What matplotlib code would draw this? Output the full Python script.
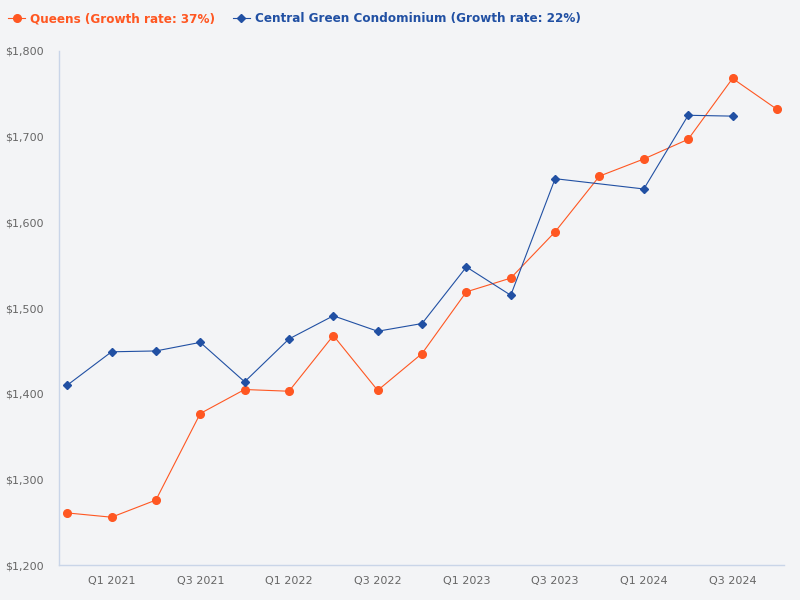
import matplotlib.pyplot as plt
from matplotlib.ticker import FuncFormatter

quarters = [
    "Q4 2020", "Q1 2021", "Q2 2021", "Q3 2021", "Q4 2021", "Q1 2022", "Q2 2022",
    "Q3 2022", "Q4 2022", "Q1 2023", "Q2 2023", "Q3 2023", "Q4 2023", "Q1 2024",
    "Q2 2024", "Q3 2024", "Q4 2024",
]
queens = [1261, 1256, 1276, 1377, 1405, 1403, 1468, 1404, 1447, 1519, 1535,
          1589, 1654, 1674, 1697, 1768, 1732]
# Central Green has no reading for Q4 2023 and none yet for Q4 2024
central_quarters = [
    "Q4 2020", "Q1 2021", "Q2 2021", "Q3 2021", "Q4 2021", "Q1 2022", "Q2 2022",
    "Q3 2022", "Q4 2022", "Q1 2023", "Q2 2023", "Q3 2023", "Q1 2024",
    "Q2 2024", "Q3 2024",
]
central = [1410, 1449, 1450, 1460, 1414, 1464, 1491, 1473, 1482, 1548, 1515,
           1651, 1639, 1725, 1724]
tick_labels = ["Q1 2021", "Q3 2021", "Q1 2022", "Q3 2022", "Q1 2023",
               "Q3 2023", "Q1 2024", "Q3 2024"]

BG = "#f3f4f6"
ORANGE = "#ff5722"
BLUE = "#2150a3"
AXIS = "#c9d5e8"
TEXT = "#666666"

fig = plt.figure(figsize=(8, 6), dpi=100, facecolor=BG)
ax = fig.add_axes([0.074, 0.058, 0.906, 0.857], facecolor=BG)

qx = [quarters.index(q) for q in quarters]
cx = [quarters.index(q) for q in central_quarters]

ax.plot(qx, queens, color=ORANGE, linewidth=0.8, marker="o", markersize=5.5,
        label="Queens (Growth rate: 37%)")
ax.plot(cx, central, color=BLUE, linewidth=0.8, marker="D", markersize=4,
        label="Central Green Condominium (Growth rate: 22%)")

ax.set_ylim(1200, 1800)
ax.set_xlim(-0.18, 16.16)
ax.set_yticks(range(1200, 1801, 100))
ax.yaxis.set_major_formatter(FuncFormatter(lambda v, _: f"${v:,.0f}"))
ax.set_xticks([quarters.index(t) for t in tick_labels])
ax.set_xticklabels(tick_labels)
ax.tick_params(length=0, labelsize=8, colors=TEXT, pad=8)
ax.tick_params(axis="y", pad=11)

for side in ("top", "right"):
    ax.spines[side].set_visible(False)
for side in ("left", "bottom"):
    ax.spines[side].set_color(AXIS)
    ax.spines[side].set_linewidth(1)

leg = fig.legend(loc="upper left", bbox_to_anchor=(-0.003, 0.998), ncol=2,
                 frameon=False, handlelength=1.4, handletextpad=0.4,
                 columnspacing=1.5, prop={"weight": "bold", "size": 8.65})
for text, color in zip(leg.get_texts(), [ORANGE, BLUE]):
    text.set_color(color)

fig.savefig("out.png", dpi=100, facecolor=BG)
